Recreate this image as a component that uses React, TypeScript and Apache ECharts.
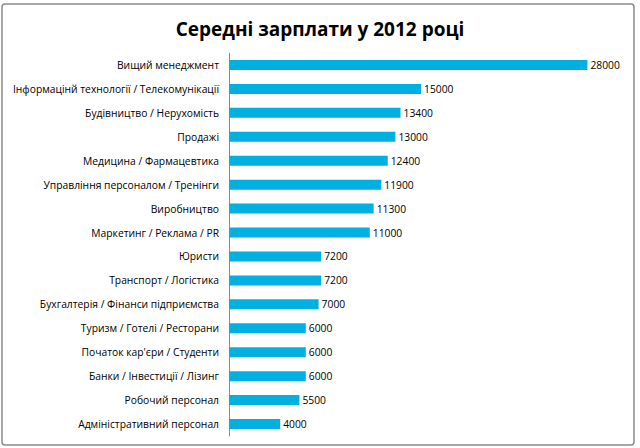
import React, { useEffect, useRef } from "react";
import * as echarts from "echarts";

const categories = [
  "Вищий менеджмент",
  "Інформацінй технології / Телекомунікації",
  "Будівництво / Нерухомість",
  "Продажі",
  "Медицина / Фармацевтика",
  "Управління персоналом / Тренінги",
  "Виробництво",
  "Маркетинг / Реклама / PR",
  "Юристи",
  "Транспорт / Логістика",
  "Бухгалтерія / Фінанси підприємства",
  "Туризм / Готелі / Ресторани",
  "Початок кар'єри / Студенти",
  "Банки / Інвестиції / Лізинг",
  "Робочий персонал",
  "Адміністративний персонал",
];
const salaries = [28000, 15000, 13400, 13000, 12400, 11900, 11300, 11000, 7200, 7200, 7000, 6000, 6000, 6000, 5500, 4000];
const titleText = "Середні зарплати у 2012 році";

export default function App() {
  const ref = useRef<HTMLDivElement>(null);
  useEffect(() => {
    document.body.style.margin = "0";
    const chart = echarts.init(ref.current!, null, { renderer: "svg" });
    chart.setOption({
      animation: false,
      backgroundColor: "#ffffff",
      title: {
        text: titleText,
        left: "center",
        top: 14,
        textStyle: { fontFamily: "Open Sans", fontWeight: "bold", fontSize: 19, color: "#000" },
      },
      graphic: [
        {
          type: "rect",
          shape: { x: 2, y: 4, width: 632, height: 441, r: 3 },
          style: { fill: "none", stroke: "#8a8a8a", lineWidth: 1.5 },
          silent: true,
        },
      ],
      grid: { left: 229, right: 27, top: 53, bottom: 12, containLabel: false },
      xAxis: {
        type: "value",
        min: 0,
        max: 30000,
        show: false,
        splitLine: { show: false },
      },
      yAxis: {
        type: "category",
        data: categories,
        inverse: true,
        axisLine: { show: true, lineStyle: { color: "#8c8c8c", width: 1 } },
        axisTick: { show: false },
        axisLabel: { fontFamily: "Open Sans", fontSize: 10.3, color: "#000", margin: 10 },
      },
      series: [
        {
          type: "bar",
          data: salaries,
          barWidth: 10,
          itemStyle: { color: "#00B0E0" },
          label: {
            show: true,
            position: "right",
            distance: 3,
            fontFamily: "Open Sans",
            fontSize: 10.3,
            color: "#000",
          },
        },
      ],
    });
    return () => chart.dispose();
  }, []);
  return <div ref={ref} style={{ position: "fixed", left: 0, top: 0, width: 640, height: 448 }} />;
}
